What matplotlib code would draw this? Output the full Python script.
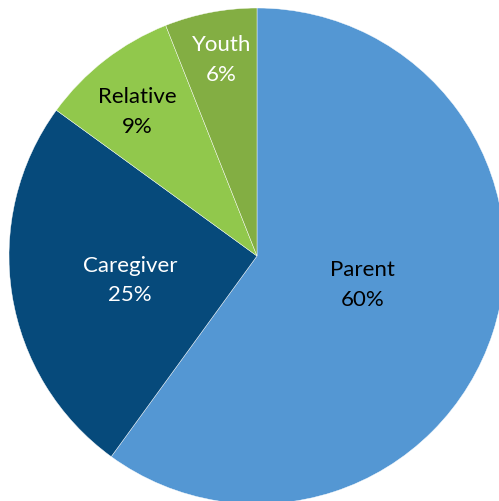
import matplotlib.pyplot as plt
import numpy as np

# caller type breakdown
labels = ['Parent', 'Caregiver', 'Relative', 'Youth']
shares = [60, 25, 9, 6]
colors = ['#5497D3', '#064A7B', '#91C84C', '#83AE43']
text_colors = ['black', 'white', 'black', 'white']
label_dist = [0.44, 0.52, 0.76, 0.807]
label_nudge = [3.0, 1.5, 1.8, -0.5]   # degrees off the wedge middle

plt.rcParams['font.family'] = ['Lato', 'DejaVu Sans']

fig = plt.figure(figsize=(4.99, 5.02), dpi=100)
# pie runs a little past the right and bottom edges
ax = fig.add_axes([9 / 499, -3 / 502, 496 / 499, 496 / 502])

wedges, _ = ax.pie(shares, colors=colors, startangle=90, counterclock=False,
                   radius=1.0,
                   wedgeprops=dict(edgecolor='white', linewidth=0.3))

for w, name, pct, tc, d, nd in zip(wedges, labels, shares, text_colors,
                                   label_dist, label_nudge):
    ang = np.deg2rad((w.theta1 + w.theta2) / 2 + nd)
    ax.text(d * np.cos(ang), d * np.sin(ang), f'{name}\n{pct}%',
            ha='center', va='center', fontsize=16, color=tc, linespacing=1.62)

ax.set_xlim(-1, 1)
ax.set_ylim(-1, 1)
ax.set_aspect('equal')
ax.axis('off')

fig.savefig('out.png', dpi=100)
